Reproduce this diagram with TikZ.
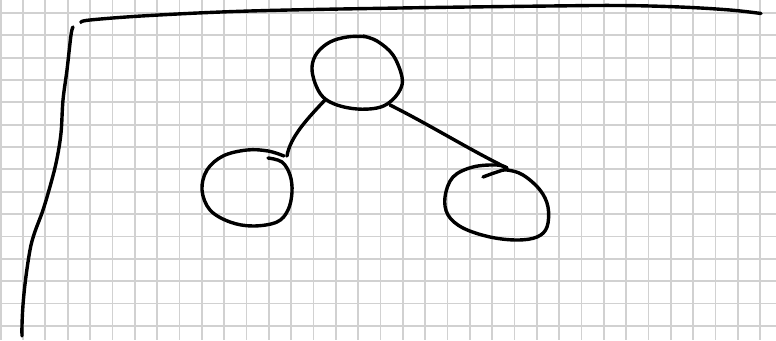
\documentclass[tikz,border=0pt]{standalone}
\begin{document}
\begin{tikzpicture}[x=1pt,y=-1pt,
  ink/.style={line width=3.4pt,line cap=round,line join=round,black},
  gridline/.style={line width=1.8pt,color=black!18}]
\fill[white] (0,0) rectangle (776,340);
\useasboundingbox (0,0) rectangle (776,340);
% grid
\foreach \k in {0,...,34} {\draw[gridline] ({0.7+22.34*\k},0) -- ({0.7+22.34*\k},340);}
\foreach \k in {0,...,14} {\draw[gridline] (0,{13+22.34*\k}) -- (776,{13+22.34*\k});}
% frame strokes
\draw[ink] plot[smooth,tension=0.6] coordinates {(81,22.5) (90,20) (150,15.5) (250,11) (400,8) (550,6) (620,5.5) (680,7) (730,10) (761,13.5)};
\draw[ink] plot[smooth,tension=0.6] coordinates {(73,27) (71,35) (67,70) (63,100) (61,133) (56.7,160) (51,183) (43,210) (34.5,233) (30,250) (25.5,280) (23,305) (22,325) (22,336)};
% connector end points
\coordinate (rootL) at (325,100);
\coordinate (rootR) at (390,105);
\coordinate (leftT) at (287,156);
\coordinate (rightT) at (507,168);
% root node
\draw[ink] plot[smooth,tension=0.6] coordinates {(363,36) (377,41) (393,55) (402,77) (400,90) (390,102) (377,108) (357,109) (337,105) (323,97) (315,83) (312,67) (317,53) (330,42) (347,37) (363,36.5) (370,38)};
% left node
\draw[ink] plot[smooth,tension=0.6] coordinates {(268,158) (282,162) (290,175) (292,192) (288,210) (277,222) (253,226) (230,222) (210,210) (202,190) (207,170) (223,156) (247,150) (268,151) (284,156)};
% right node
\draw[ink] plot[smooth,tension=0.6] coordinates {(483,177) (497,172) (507,170) (523,175) (540,190) (548,207) (547,227) (537,237) (517,240) (490,237) (463,228) (448,215) (445,197) (453,177) (473,167) (497,165) (507,168)};
% connectors
\draw[ink] (rootL) .. controls (308,118) and (290,137) .. (leftT);
\draw[ink] (rootR) .. controls (430,125) and (470,150) .. (rightT);
\end{tikzpicture}
\end{document}
